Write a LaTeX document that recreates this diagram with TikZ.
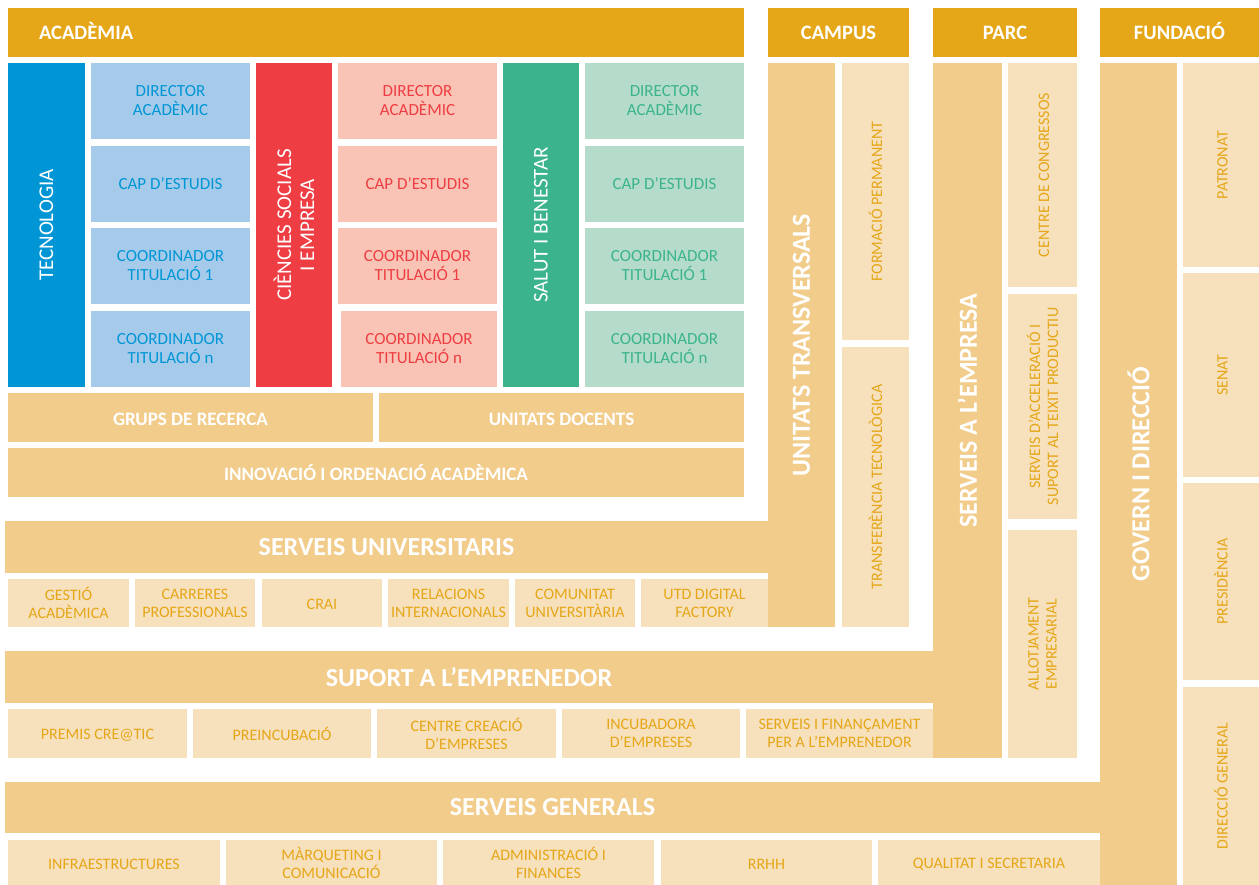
\documentclass[tikz,border=0pt]{standalone}
\usepackage{fontspec}
\setmainfont{Carlito}
\usetikzlibrary{positioning}
\definecolor{UGold}{HTML}{E5A718}
\definecolor{UTan}{HTML}{F2CC8B}
\definecolor{ULight}{HTML}{F7E0BC}
\definecolor{TecBlue}{HTML}{0096D6}
\definecolor{TecLight}{HTML}{A6CBEA}
\definecolor{SocRed}{HTML}{EE3E43}
\definecolor{SocLight}{HTML}{F9C4B5}
\definecolor{SalGreen}{HTML}{3BB48D}
\definecolor{SalLight}{HTML}{B5DCCB}
% box from corner (x1,y1) to corner (x2,y2), in pixels of the layout
\newcommand{\blk}[7]{\node[#1, minimum width={(#5-#3)*1pt}, minimum height={(#6-#4)*1pt}] (#2) at ({(#3+#5)/2},{(#4+#6)/2}) {#7};}
% same, with the text turned upwards
\newcommand{\vblk}[7]{\node[#1, rotate=90, minimum width={(#6-#4)*1pt}, minimum height={(#5-#3)*1pt}] (#2) at ({(#3+#5)/2},{(#4+#6)/2}) {#7};}

\begin{document}
\begin{tikzpicture}[
    x=1pt, y=-1pt,
    box/.style = {rectangle, inner sep=0pt, align=center},
    head/.style = {box, fill=UGold, text=white, text height=15pt, text depth=0pt, font=\bfseries\fontsize{20.5}{22}\selectfont},
    band/.style = {box, fill=UTan, text=white, font=\bfseries\fontsize{26}{30}\selectfont},
    bar/.style = {box, fill=UTan, text=white, text height=15pt, text depth=0pt, font=\bfseries\fontsize{19}{22}\selectfont},
    item/.style = {box, fill=ULight, text=UGold, font=\fontsize{16}{18}\selectfont, execute at begin node=\vphantom{Ó}},
    dept/.style = {box, text=white, font=\fontsize{21}{23}\selectfont},
    role/.style = {box, font=\fontsize{17}{19}\selectfont},
    tec/.style = {role, fill=TecLight, text=TecBlue},
    soc/.style = {role, fill=SocLight, text=SocRed},
    sal/.style = {role, fill=SalLight, text=SalGreen}
]
\useasboundingbox (0,0) rectangle (1259,885);
% Headers
\blk{head, inner xsep=31pt, text width=674pt, align=left}{academia}{8}{8}{744}{57}{ACADÈMIA}
\blk{head}{campus}{768}{8}{909}{57}{CAMPUS}
\blk{head}{parc}{933}{8}{1077}{57}{PARC}
\blk{head}{fundacio}{1100}{8}{1259}{57}{FUNDACIÓ}
% Tecnologia
\vblk{dept, fill=TecBlue}{tec}{8}{63}{85}{387}{TECNOLOGIA}
\blk{tec}{tec1}{91}{63}{250}{139}{DIRECTOR\\ACADÈMIC}
\blk{tec}{tec2}{91}{146}{250}{222}{CAP D’ESTUDIS}
\blk{tec}{tec3}{91}{228}{250}{304}{COORDINADOR\\TITULACIÓ 1}
\blk{tec}{tec4}{91}{311}{250}{387}{COORDINADOR\\TITULACIÓ n}
% Ciencies socials i empresa
\vblk{dept, fill=SocRed}{soc}{256}{63}{332}{387}{CIÈNCIES SOCIALS\\I EMPRESA}
\blk{soc}{soc1}{338}{63}{497}{139}{DIRECTOR\\ACADÈMIC}
\blk{soc}{soc2}{338}{146}{497}{222}{CAP D’ESTUDIS}
\blk{soc}{soc3}{338}{228}{497}{304}{COORDINADOR\\TITULACIÓ 1}
\blk{soc}{soc4}{341}{311}{497}{387}{COORDINADOR\\TITULACIÓ n}
% Salut i benestar
\vblk{dept, fill=SalGreen}{sal}{503}{63}{579}{387}{SALUT I BENESTAR}
\blk{sal}{sal1}{585}{63}{744}{139}{DIRECTOR\\ACADÈMIC}
\blk{sal}{sal2}{585}{146}{744}{222}{CAP D’ESTUDIS}
\blk{sal}{sal3}{585}{228}{744}{304}{COORDINADOR\\TITULACIÓ 1}
\blk{sal}{sal4}{585}{311}{744}{387}{COORDINADOR\\TITULACIÓ n}
% Recerca, docencia, innovacio
\blk{bar}{recerca}{8}{393}{373}{442}{GRUPS DE RECERCA}
\blk{bar}{docents}{379}{393}{744}{442}{UNITATS DOCENTS}
\blk{bar}{innovacio}{8}{448}{744}{497}{INNOVACIÓ I ORDENACIÓ ACADÈMICA}
% Campus
\vblk{band}{transversals}{768}{63}{835}{627}{UNITATS TRANSVERSALS}
\vblk{item}{formacio}{842}{63}{909}{340}{FORMACIÓ PERMANENT}
\vblk{item}{transferencia}{842}{347}{909}{627}{TRANSFERÈNCIA TECNOLÒGICA}
\blk{band}{universitaris}{5}{521}{768}{573}{SERVEIS UNIVERSITARIS}
\blk{item}{su1}{8}{579}{129}{627}{GESTIÓ\\ACADÈMICA}
\blk{item}{su2}{135}{579}{255}{627}{CARRERES\\PROFESSIONALS}
\blk{item}{su3}{262}{579}{382}{627}{CRAI}
\blk{item}{su4}{388}{579}{509}{627}{RELACIONS\\INTERNACIONALS}
\blk{item}{su5}{515}{579}{635}{627}{COMUNITAT\\UNIVERSITÀRIA}
\blk{item}{su6}{641}{579}{768}{627}{UTD DIGITAL\\FACTORY}
% Parc
\vblk{band}{empresa}{933}{63}{1002}{758}{SERVEIS A L’EMPRESA}
\vblk{item}{congressos}{1008}{63}{1077}{287}{CENTRE DE CONGRESSOS}
\vblk{item}{acceleracio}{1008}{294}{1077}{519}{SERVEIS D’ACCELERACIÓ I\\SUPORT AL TEIXIT PRODUCTIU}
\vblk{item}{allotjament}{1008}{530}{1077}{758}{ALLOTJAMENT\\EMPRESARIAL}
\blk{band}{emprenedor}{5}{651}{933}{703}{SUPORT A L’EMPRENEDOR}
\blk{item}{se1}{8}{709}{187}{758}{PREMIS CRE@TIC}
\blk{item}{se2}{193}{709}{371}{758}{PREINCUBACIÓ}
\blk{item}{se3}{377}{709}{556}{758}{CENTRE CREACIÓ\\D’EMPRESES}
\blk{item}{se4}{562}{709}{740}{758}{INCUBADORA\\D’EMPRESES}
\blk{item}{se5}{746}{709}{933}{758}{SERVEIS I FINANÇAMENT\\PER A L’EMPRENEDOR}
% Fundacio
\vblk{band}{govern}{1100}{63}{1177}{885}{GOVERN I DIRECCIÓ}
\vblk{item}{patronat}{1183}{63}{1259}{267}{PATRONAT}
\vblk{item}{senat}{1183}{273}{1259}{477}{SENAT}
\vblk{item}{presidencia}{1183}{483}{1259}{680}{PRESIDÈNCIA}
\vblk{item}{direccio}{1183}{687}{1259}{885}{DIRECCIÓ GENERAL}
\blk{band}{generals}{5}{782}{1100}{833}{SERVEIS GENERALS}
\blk{item}{sg1}{8}{840}{220}{885}{INFRAESTRUCTURES}
\blk{item}{sg2}{226}{840}{437}{885}{MÀRQUETING I\\COMUNICACIÓ}
\blk{item}{sg3}{443}{840}{654}{885}{ADMINISTRACIÓ I\\FINANCES}
\blk{item}{sg4}{661}{840}{872}{885}{RRHH}
\blk{item}{sg5}{878}{840}{1100}{885}{QUALITAT I SECRETARIA}
\end{tikzpicture}
\end{document}
